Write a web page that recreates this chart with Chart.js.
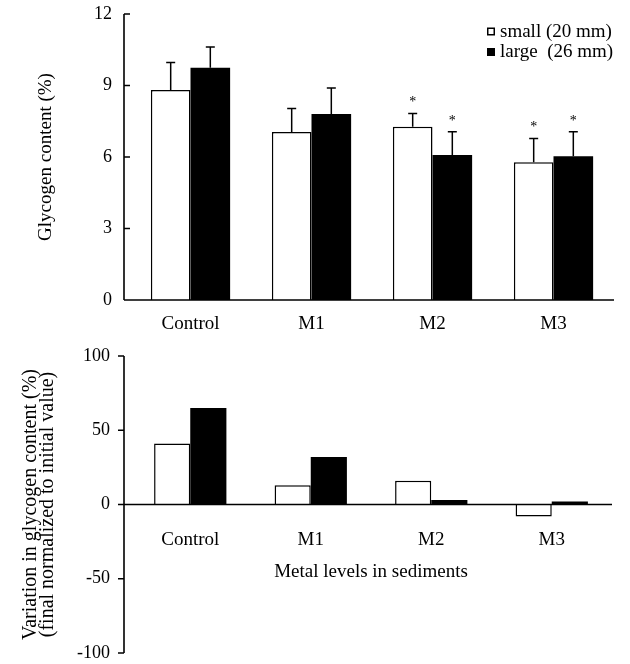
<!DOCTYPE html>
<html><head><meta charset="utf-8">
<script src="https://cdn.jsdelivr.net/npm/chart.js@4.4.0/dist/chart.umd.min.js"></script>
<style>
html,body{margin:0;padding:0;background:#fff;}
#wrap{position:relative;width:630px;height:664px;overflow:hidden;background:#fff;}
#c1{position:absolute;left:0;top:0;}
#c2{position:absolute;left:0;top:335px;}
</style></head><body>
<div id="wrap">
<canvas id="c1" width="630" height="345"></canvas>
<canvas id="c2" width="630" height="329"></canvas>
</div>
<script>
const categories = ["Control", "M1", "M2", "M3"];
const seriesNames = ["small (20 mm)", "large  (26 mm)"];
const glycogenSmall = [8.81, 7.05, 7.27, 5.78];
const glycogenLarge = [9.75, 7.80, 6.08, 6.03];
const errorSmall = [1.16, 0.98, 0.56, 1.00];
const errorLarge = [0.87, 1.10, 0.98, 1.03];
const signifSmall = [false, false, true, true];
const signifLarge = [false, false, true, true];
const variationSmall = [41, 13, 16, -8];
const variationLarge = [65, 32, 3, 2];
const topTicks = [0, 3, 6, 9, 12];
const bottomTicks = [-100, -50, 0, 50, 100];

Chart.defaults.font.family = '"Liberation Serif", "Times New Roman", serif';
Chart.defaults.color = '#000';

function zeroPad(s) {
  s.paddingTop = 0; s.paddingBottom = 0; s.paddingLeft = 0; s.paddingRight = 0;
}

function axesPlugin(tickDir, xExtend) {
  return {
    id: 'axesLines',
    afterDatasetsDraw(chart) {
      const {ctx, chartArea, scales: {y}} = chart;
      const ax = chartArea.left - 6;
      const y0 = y.getPixelForValue(0);
      ctx.save();
      ctx.strokeStyle = '#000';
      ctx.lineWidth = 1.6;
      ctx.beginPath();
      ctx.moveTo(ax, chartArea.top); ctx.lineTo(ax, chartArea.bottom);
      ctx.moveTo(ax - xExtend, y0); ctx.lineTo(chartArea.right, y0);
      y.ticks.forEach(t => {
        const py = y.getPixelForValue(t.value);
        ctx.moveTo(ax, py); ctx.lineTo(ax + tickDir * 6, py);
      });
      ctx.stroke();
      ctx.restore();
    }
  };
}

const errorBarPlugin = {
  id: 'errorBars',
  afterDatasetsDraw(chart) {
    const {ctx, scales: {y}} = chart;
    const errs = [errorSmall, errorLarge];
    const sigs = [signifSmall, signifLarge];
    ctx.save();
    ctx.strokeStyle = '#000';
    ctx.fillStyle = '#000';
    ctx.lineWidth = 1.5;
    ctx.font = '14px "Liberation Serif"';
    ctx.textAlign = 'center';
    ctx.textBaseline = 'alphabetic';
    chart.data.datasets.forEach((ds, di) => {
      const meta = chart.getDatasetMeta(di);
      meta.data.forEach((bar, i) => {
        const top = y.getPixelForValue(ds.data[i] + errs[di][i]);
        ctx.beginPath();
        ctx.moveTo(bar.x, bar.y); ctx.lineTo(bar.x, top);
        ctx.moveTo(bar.x - 4.5, top); ctx.lineTo(bar.x + 4.5, top);
        ctx.stroke();
        if (sigs[di][i]) ctx.fillText('*', bar.x, top - 7);
      });
    });
    ctx.restore();
  }
};

const legendPlugin = {
  id: 'cornerLegend',
  afterDraw(chart) {
    const ctx = chart.ctx;
    ctx.save();
    ctx.font = '19px "Liberation Serif"';
    ctx.textBaseline = 'middle';
    ctx.textAlign = 'left';
    ctx.fillStyle = '#000';
    ctx.strokeStyle = '#000';
    ctx.lineWidth = 1.5;
    chart.data.datasets.forEach((ds, i) => {
      const cy = 32 + i * 20;
      if (ds.backgroundColor === '#fff') {
        ctx.strokeRect(487.75, cy - 3.75, 6.5, 6.5);
      } else {
        ctx.fillRect(487, cy - 4, 8, 8);
      }
      ctx.fillText(ds.label, 500, cy);
    });
    ctx.restore();
  }
};

new Chart(document.getElementById('c1'), {
  type: 'bar',
  data: {
    labels: categories,
    datasets: [
      {label: seriesNames[0], data: glycogenSmall, backgroundColor: '#fff', borderColor: '#000', borderWidth: 1.5},
      {label: seriesNames[1], data: glycogenLarge, backgroundColor: '#000', borderColor: '#000', borderWidth: 0}
    ]
  },
  options: {
    responsive: false, animation: false, devicePixelRatio: 1,
    layout: {padding: {left: 0, right: 16, top: 14, bottom: 0}},
    plugins: {legend: {display: false}, tooltip: {enabled: false}},
    datasets: {bar: {categoryPercentage: 0.655, barPercentage: 1.0}},
    scales: {
      x: {
        grid: {display: false, drawTicks: false}, border: {display: false},
        ticks: {font: {size: 19}, padding: 13, maxRotation: 0},
        afterFit(s) { s.height = 45; zeroPad(s); }
      },
      y: {
        min: 0, max: 12,
        grid: {display: false, drawTicks: false}, border: {display: false},
        afterBuildTicks(s) { s.ticks = topTicks.map(v => ({value: v})); },
        ticks: {font: {size: 18}, padding: 18},
        title: {display: true, text: 'Glycogen content (%)', font: {size: 19}, padding: {top: 35, bottom: 0}},
        afterFit(s) { s.width = 130; zeroPad(s); }
      }
    }
  },
  plugins: [errorBarPlugin, axesPlugin(1, 0), legendPlugin]
});

new Chart(document.getElementById('c2'), {
  type: 'bar',
  data: {
    labels: categories,
    datasets: [
      {label: seriesNames[0], data: variationSmall, backgroundColor: '#fff', borderColor: '#000', borderWidth: 1.5},
      {label: seriesNames[1], data: variationLarge, backgroundColor: '#000', borderColor: '#000', borderWidth: 0}
    ]
  },
  options: {
    responsive: false, animation: false, devicePixelRatio: 1,
    layout: {padding: {left: 0, right: 18, top: 21, bottom: 11}},
    plugins: {legend: {display: false}, tooltip: {enabled: false}},
    datasets: {bar: {categoryPercentage: 0.6, barPercentage: 1.0}},
    scales: {
      x: {
        position: {y: 0},
        grid: {display: false, drawTicks: false}, border: {display: false},
        ticks: {font: {size: 19}, padding: 24, maxRotation: 0},
        title: {display: true, text: 'Metal levels in sediments', font: {size: 19}, padding: {top: 0, bottom: 1}},
        afterFit(s) { s.height = 80; zeroPad(s); }
      },
      y: {
        min: -100, max: 100,
        grid: {display: false, drawTicks: false}, border: {display: false},
        afterBuildTicks(s) { s.ticks = bottomTicks.map(v => ({value: v})); },
        ticks: {font: {size: 18}, padding: 20},
        title: {display: true, text: ['Variation in glycogen content (%)', '(final normalized to initial value)'],
                font: {size: 20, lineHeight: 0.85}, padding: {top: 22, bottom: 0}},
        afterFit(s) { s.width = 130; zeroPad(s); }
      }
    }
  },
  plugins: [axesPlugin(-1, 6)]
});
</script>
</body></html>
